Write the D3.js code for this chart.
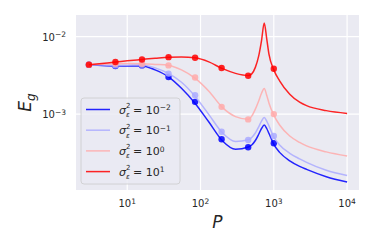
<!DOCTYPE html>
<html>
<head>
<meta charset="utf-8">
<script src="https://cdn.jsdelivr.net/npm/d3@7"></script>
<style>
  body { margin: 0; background: #fff; }
  svg { display: block; font-family: "DejaVu Sans", sans-serif; }
</style>
</head>
<body>
<svg id="chart" width="374" height="249"></svg>
<script>
// theory curves, sampled at these P
const theoryP = [3, 4.5, 7, 10, 16, 24, 37, 55, 84, 130, 200, 300, 450, 500, 560, 620, 680, 740, 800, 860, 1000, 1200, 1650, 2250, 2800, 5200, 10000];

const theoryBlue = [0.004338, 0.004248, 0.004161, 0.004173, 0.004186, 0.003720, 0.003007, 0.002154, 0.001384, 0.000790, 0.000451, 0.000353, 0.000377, 0.000400, 0.000457, 0.000546, 0.000652, 0.000723, 0.000652, 0.000562, 0.000406, 0.000321, 0.000250, 0.000212, 0.000194, 0.000156, 0.000133];
const theoryLightBlue = [0.004338, 0.004299, 0.004248, 0.004273, 0.004311, 0.003946, 0.003325, 0.002572, 0.001701, 0.000985, 0.000571, 0.000444, 0.000467, 0.000500, 0.000571, 0.000681, 0.000813, 0.000902, 0.000813, 0.000702, 0.000507, 0.000400, 0.000312, 0.000265, 0.000239, 0.000189, 0.000162];
const theoryPink = [0.004338, 0.004402, 0.004467, 0.004493, 0.004467, 0.004375, 0.004248, 0.003720, 0.002911, 0.001972, 0.001212, 0.000929, 0.000858, 0.000943, 0.001159, 0.001468, 0.001859, 0.002136, 0.001752, 0.001384, 0.000971, 0.000723, 0.000522, 0.000431, 0.000389, 0.000326, 0.000289];
const theoryRed = [0.004338, 0.004506, 0.004696, 0.004866, 0.005071, 0.005254, 0.005427, 0.005460, 0.005316, 0.004710, 0.003853, 0.003354, 0.003144, 0.003305, 0.004004, 0.005540, 0.008887, 0.01498, 0.009427, 0.005878, 0.003720, 0.002689, 0.001805, 0.001425, 0.001285, 0.001109, 0.001021];

// simulation points
const simP = [3, 6.9, 15.9, 36.6, 84.3, 194, 447, 1000];
const simBlue = [0.00434, 0.00416, 0.00425, 0.00301, 0.00144, 0.000474, 0.000374, 0.000421];
const simLightBlue = [0.00434, 0.00425, 0.00434, 0.00333, 0.00175, 0.000593, 0.000464, 0.000523];
const simPink = [0.00434, 0.00446, 0.00446, 0.00425, 0.00296, 0.00124, 0.000855, 0.00100];
const simRed = [0.00434, 0.00469, 0.00507, 0.00543, 0.00533, 0.00393, 0.00313, 0.00385];

const noiseExps = ["-2", "-1", "0", "1"];
const colors = ["#0000ff", "#aaaaff", "#ffaaaa", "#ff0000"];

const series = [
    { theory: theoryBlue, sim: simBlue },
    { theory: theoryLightBlue, sim: simLightBlue },
    { theory: theoryPink, sim: simPink },
    { theory: theoryRed, sim: simRed }
];

const xTicks = [10, 100, 1000, 10000];
const yTicks = [0.01, 0.001];

const svg = d3.select("#chart");
const margin = { top: 15, right: 15, bottom: 59, left: 76 };
const width = 374 - margin.left - margin.right;
const height = 249 - margin.top - margin.bottom;

//matplotlib style 5% margins in log space
function logPad(ext) {
    const a = Math.log10(ext[0]), b = Math.log10(ext[1]);
    const pad = (b - a) * 0.05;
    return [Math.pow(10, a - pad), Math.pow(10, b + pad)];
}

const allE = series.flatMap(s => s.theory.concat(s.sim));

const x = d3.scaleLog()
    .domain(logPad(d3.extent(theoryP)))
    .range([0, width + 1]);

const y = d3.scaleLog()
    .domain(logPad(d3.extent(allE)))
    .range([height, 0]);

const g = svg.append("g")
    .attr("transform", `translate(${margin.left},${margin.top})`);

g.append("rect")
    .attr("width", width)
    .attr("height", height)
    .attr("fill", "#eaeaf2");

//grid
g.selectAll(".vgrid")
    .data(xTicks)
    .enter()
    .append("line")
    .attr("x1", d => x(d)).attr("x2", d => x(d))
    .attr("y1", 0).attr("y2", height)
    .attr("stroke", "#fff")
    .attr("stroke-width", 1.2);

g.selectAll(".hgrid")
    .data(yTicks)
    .enter()
    .append("line")
    .attr("x1", 0).attr("x2", width)
    .attr("y1", d => y(d)).attr("y2", d => y(d))
    .attr("stroke", "#fff")
    .attr("stroke-width", 1.2);

//tick labels with superscripts
function powLabel(sel, d) {
    const e = Math.round(Math.log10(d));
    sel.append("tspan").text("10");
    sel.append("tspan")
        .attr("dy", "-0.45em")
        .style("font-size", "7.5px")
        .text(e < 0 ? "\u2212" + (-e) : e);
}

g.selectAll(".xlab")
    .data(xTicks)
    .enter()
    .append("text")
    .attr("x", d => x(d))
    .attr("y", height + 17)
    .attr("text-anchor", "middle")
    .attr("fill", "#262626")
    .style("font-size", "10px")
    .each(function (d) { powLabel(d3.select(this), d); });

g.selectAll(".ylab")
    .data(yTicks)
    .enter()
    .append("text")
    .attr("x", -10)
    .attr("y", d => y(d) + 4)
    .attr("text-anchor", "end")
    .attr("fill", "#262626")
    .style("font-size", "10px")
    .each(function (d) { powLabel(d3.select(this), d); });

//axis labels
svg.append("text")
    .attr("x", margin.left + width / 2)
    .attr("y", 228)
    .attr("text-anchor", "middle")
    .attr("fill", "#262626")
    .style("font-size", "17px")
    .style("font-style", "italic")
    .text("P");

const ylab = svg.append("text")
    .attr("transform", `translate(31, ${margin.top + height / 2}) rotate(-90)`)
    .attr("text-anchor", "middle")
    .attr("fill", "#262626")
    .style("font-size", "17px");
ylab.append("tspan").style("font-style", "italic").text("E");
ylab.append("tspan").attr("dy", "0.3em").style("font-size", "12px").style("font-style", "italic").text("g");

//curves and points
const line = d3.line()
    .x(d => x(d[0]))
    .y(d => y(d[1]))
    .curve(d3.curveMonotoneX);

series.forEach((s, i) => {
    g.append("path")
        .attr("d", line(theoryP.map((p, j) => [p, s.theory[j]])))
        .attr("fill", "none")
        .attr("stroke", colors[i])
        .attr("stroke-opacity", 0.85)
        .attr("stroke-width", 1.5);

    g.selectAll(".pt" + i)
        .data(simP.map((p, j) => [p, s.sim[j]]))
        .enter()
        .append("circle")
        .attr("cx", d => x(d[0]))
        .attr("cy", d => y(d[1]))
        .attr("r", 3.2)
        .attr("fill", colors[i])
        .attr("fill-opacity", 0.85);
});

//legend
const legend = svg.append("g").attr("transform", "translate(81, 98)");
legend.append("rect")
    .attr("width", 99)
    .attr("height", 86)
    .attr("rx", 3)
    .attr("fill", "#eaeaf2")
    .attr("fill-opacity", 0.8)
    .attr("stroke", "#cccccc")
    .attr("stroke-width", 0.8);

noiseExps.forEach((e, i) => {
    const ry = 11.5 + i * 20.7;
    legend.append("line")
        .attr("x1", 5).attr("x2", 29)
        .attr("y1", ry).attr("y2", ry)
        .attr("stroke", colors[i])
        .attr("stroke-opacity", 0.85)
        .attr("stroke-width", 1.5);
    //sigma with stacked sup/sub as separate small texts
    legend.append("text")
        .attr("x", 38)
        .attr("y", ry + 4)
        .attr("fill", "#262626")
        .style("font-size", "11px")
        .style("font-style", "italic")
        .text("\u03c3");
    legend.append("text")
        .attr("x", 45)
        .attr("y", ry - 1.5)
        .attr("fill", "#262626")
        .style("font-size", "7px")
        .text("2");
    legend.append("text")
        .attr("x", 45)
        .attr("y", ry + 7.5)
        .attr("fill", "#262626")
        .style("font-size", "7px")
        .style("font-style", "italic")
        .text("\u03b5");
    const t = legend.append("text")
        .attr("x", 52)
        .attr("y", ry + 4)
        .attr("fill", "#262626")
        .style("font-size", "11px");
    t.append("tspan").text("= 10");
    t.append("tspan").attr("dy", "-0.45em").style("font-size", "7.5px").text(e.replace("-", "\u2212"));
});
</script>
</body>
</html>
